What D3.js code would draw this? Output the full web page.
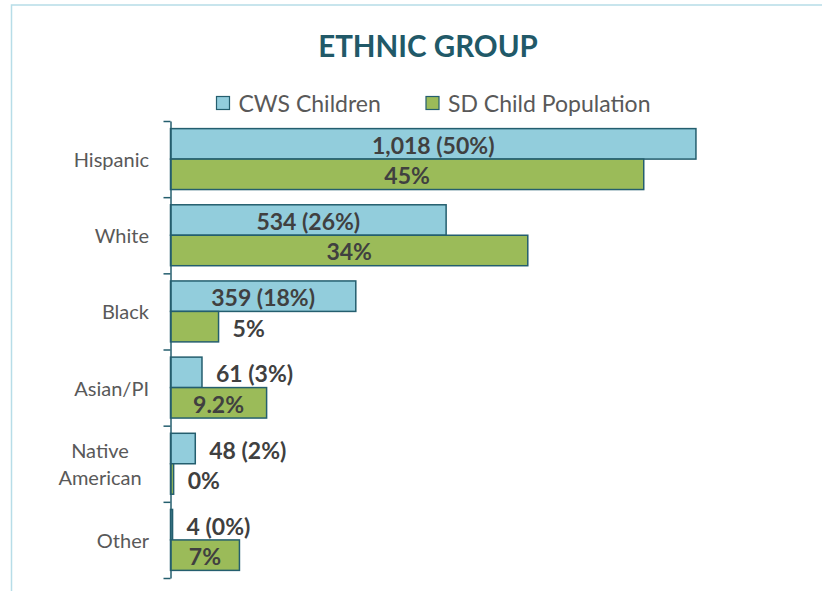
<!DOCTYPE html>
<html>
<head>
<meta charset="utf-8">
<script src="https://cdn.jsdelivr.net/npm/d3@7"></script>
<style>
  body { margin: 0; background: #fff; }
  svg { display: block; font-family: Lato, "Open Sans", sans-serif; }
</style>
</head>
<body>
<svg id="chart" width="822" height="591"></svg>
<script>
var categories = ["Hispanic", "White", "Black", "Asian/PI", "Native\nAmerican", "Other"];
var series = ["CWS Children", "SD Child Population"];
var cwsCounts = [1018, 534, 359, 61, 48, 4];
var sdPct = [45.3, 34.2, 4.6, 9.2, 0.3, 6.6];
var sdLabels = ["45%", "34%", "5%", "9.2%", "0%", "7%"];

var colors = ["#92cddc", "#9bbb59"];
var stroke = "#245e6e";

var svg = d3.select("#chart");
var width = 822, height = 591;

// light frame
svg.append("rect")
  .attr("x", 11.5).attr("y", 5)
  .attr("width", width).attr("height", height)
  .attr("fill", "none").attr("stroke", "#b7dde8").attr("stroke-width", 1.5);

svg.append("text")
  .attr("x", 428).attr("y", 57)
  .attr("text-anchor", "middle")
  .attr("font-size", 29.5).attr("font-weight", "bold")
  .attr("fill", "#215968")
  .text("ETHNIC GROUP");

// legend
var legendX = [216.5, 426];
series.forEach(function(s, i) {
  svg.append("rect")
    .attr("x", legendX[i]).attr("y", 96.5)
    .attr("width", 13).attr("height", 13)
    .attr("fill", colors[i]).attr("stroke", stroke).attr("stroke-width", 1.2);
  svg.append("text")
    .attr("x", legendX[i] + 22).attr("y", 103)
    .attr("dominant-baseline", "central")
    .attr("font-size", 23).attr("fill", "#595959")
    .text(s);
});

var total = d3.sum(cwsCounts);
var data = categories.map(function(c, i) {
  return {
    cat: c,
    vals: [
      {s: 0, v: cwsCounts[i] / total * 100, label: d3.format(",")(cwsCounts[i]) + " (" + Math.round(cwsCounts[i] / total * 100) + "%)"},
      {s: 1, v: sdPct[i], label: sdLabels[i]}
    ]
  };
});

var axisX = 170.5;
var x = d3.scaleLinear().domain([0, 55]).range([axisX, axisX + 55 * 10.447]);
var y0 = d3.scaleBand().domain(categories).range([121, 578]).paddingInner(0.2).paddingOuter(0.1);
var y1 = d3.scaleBand().domain([0, 1]).range([0, y0.bandwidth()]);

var groups = svg.selectAll("g.cat")
  .data(data)
  .enter().append("g")
  .attr("class", "cat")
  .attr("transform", function(d) { return "translate(0," + y0(d.cat) + ")"; });

groups.selectAll("rect")
  .data(function(d) { return d.vals; })
  .enter().append("rect")
  .attr("x", x(0))
  .attr("y", function(d) { return y1(d.s); })
  .attr("width", function(d) { return x(d.v) - x(0); })
  .attr("height", y1.bandwidth())
  .attr("fill", function(d) { return colors[d.s]; })
  .attr("stroke", stroke).attr("stroke-width", 1.5);

groups.selectAll("text.val")
  .data(function(d) { return d.vals; })
  .enter().append("text")
  .attr("class", "val")
  .attr("y", function(d) { return y1(d.s) + y1.bandwidth() / 2 + 1; })
  .attr("dominant-baseline", "central")
  .attr("font-size", 23).attr("font-weight", "bold")
  .attr("fill", "#404040")
  .text(function(d) { return d.label; })
  .each(function(d) {
    var w = this.getComputedTextLength();
    var bw = x(d.v) - x(0);
    var t = d3.select(this);
    // label goes inside the bar only when there is room to spare
    if (w + 30 < bw) {
      t.attr("text-anchor", "middle").attr("x", (x(0) + x(d.v)) / 2);
    } else {
      t.attr("text-anchor", "start").attr("x", x(d.v) + 14);
    }
  });

// axis with ticks at category boundaries
var yb = d3.scaleLinear().domain([0, categories.length]).range([121, 578]);
svg.append("g")
  .attr("transform", "translate(" + axisX + ",0)")
  .call(d3.axisLeft(yb).tickValues(d3.range(categories.length + 1)).tickFormat("").tickSize(7).tickSizeOuter(0))
  .call(function(g) {
    g.select(".domain").attr("stroke", stroke).attr("stroke-width", 1.5);
    g.selectAll(".tick line").attr("stroke", stroke).attr("stroke-width", 1.5);
  });

// category labels
data.forEach(function(d) {
  var lines = d.cat.split("\n");
  var cy = y0(d.cat) + y0.bandwidth() / 2;
  var t = svg.append("text")
    .attr("font-size", 20).attr("fill", "#595959")
    .attr("text-anchor", lines.length > 1 ? "middle" : "end");
  lines.forEach(function(l, j) {
    t.append("tspan")
      .attr("x", lines.length > 1 ? 100 : 149)
      .attr("y", cy + (j - (lines.length - 1) / 2) * 27)
      .attr("dominant-baseline", "central")
      .text(l);
  });
});
</script>
</body>
</html>
